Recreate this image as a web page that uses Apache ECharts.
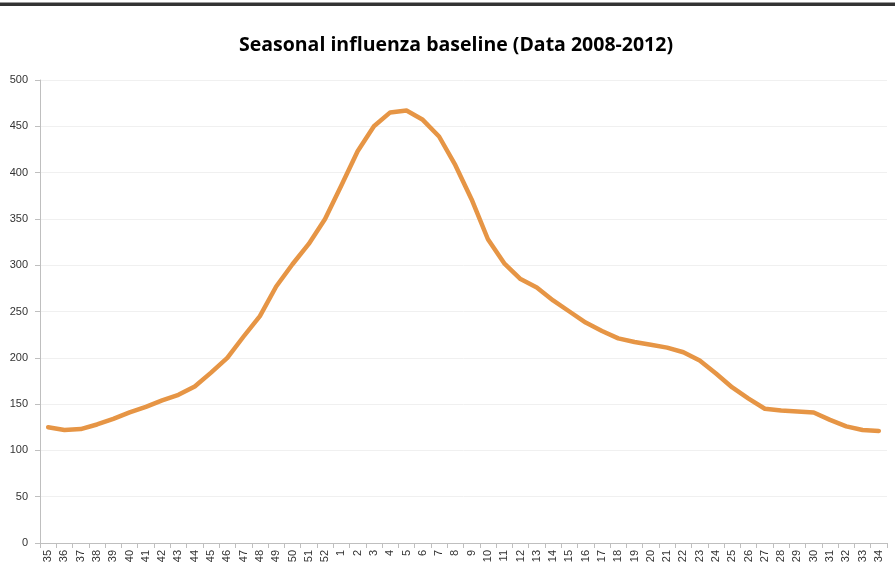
<!DOCTYPE html>
<html>
<head>
<meta charset="utf-8">
<script src="https://cdn.jsdelivr.net/npm/echarts@6/dist/echarts.min.js"></script>
<style>
html,body{margin:0;padding:0;background:#fff;}
#chart{width:895px;height:585px;}
</style>
</head>
<body>
<div id="chart"></div>
<script>
const weeks = ['35','36','37','38','39','40','41','42','43','44','45','46','47','48','49','50','51','52',
  '1','2','3','4','5','6','7','8','9','10','11','12','13','14','15','16','17','18','19','20','21','22','23','24','25','26','27','28','29','30','31','32','33','34'];
const baseline = [125,122,123,128,134,141,147,154,160,169,184,200,223,245,277,301,323,350,
  386,423,450,465,467,457,439,408,371,328,302,285,276,262,250,238,229,221,217,214,211,206,197,183,168,156,145,143,142,141,133,126,122,121];
const yTicks = {min:0, max:500, interval:50};

const chart = echarts.init(document.getElementById('chart'));
chart.setOption({
  animation:false,
  backgroundColor:'#ffffff',
  title:{
    text:'Seasonal influenza baseline (Data 2008-2012)',
    left:451, top:30, textAlign:'center',
    textStyle:{fontFamily:'Open Sans', fontWeight:'bold', fontSize:19.5, color:'#000'}
  },
  graphic:[
    {type:'rect', shape:{x:0,y:2,width:895,height:1}, style:{fill:'#9a9a9a'}},
    {type:'rect', shape:{x:0,y:3,width:895,height:3}, style:{fill:'#333333'}}
  ],
  grid:{left:40, right:8, top:80, bottom:42},
  xAxis:{
    type:'category', data:weeks, boundaryGap:true,
    axisLine:{lineStyle:{color:'#bfbfbf', width:1}},
    axisTick:{show:true, length:5, lineStyle:{color:'#bfbfbf'}},
    axisLabel:{rotate:90, fontSize:11, color:'#333', fontFamily:'Liberation Sans', margin:7, interval:0}
  },
  yAxis:{
    type:'value', min:yTicks.min, max:yTicks.max, interval:yTicks.interval,
    axisLine:{show:true, lineStyle:{color:'#bfbfbf', width:1}},
    axisTick:{show:true, length:5, lineStyle:{color:'#bfbfbf'}},
    axisLabel:{fontSize:11, color:'#333', fontFamily:'Liberation Sans', margin:12},
    splitLine:{lineStyle:{color:'#f0f0f0', width:1}}
  },
  series:[{
    type:'line', data:baseline, symbol:'none', smooth:false,
    lineStyle:{color:'#e69545', width:4.5, cap:'round', join:'round'}
  }]
});
</script>
</body>
</html>
